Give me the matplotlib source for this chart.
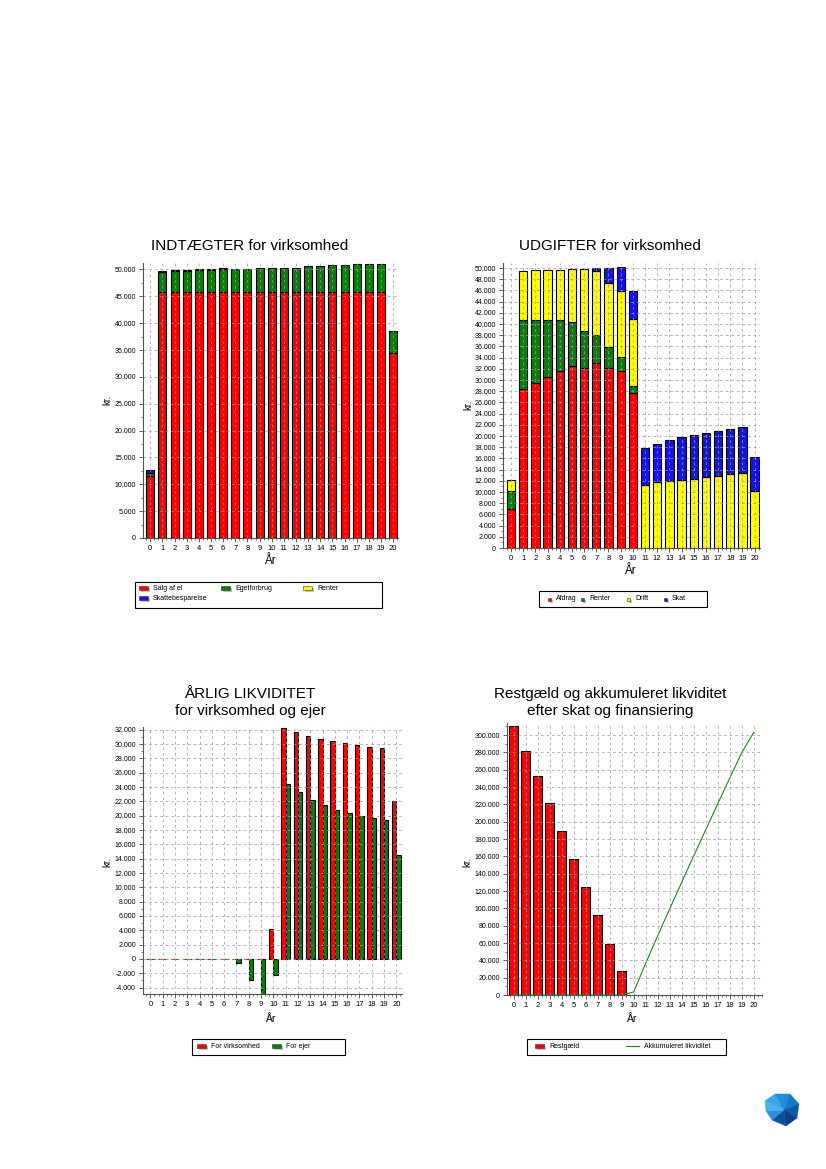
import matplotlib
matplotlib.use("Agg")
import matplotlib.pyplot as plt
from matplotlib.patches import Rectangle, Polygon
from matplotlib.lines import Line2D
from matplotlib.ticker import FuncFormatter, MultipleLocator, AutoMinorLocator

plt.rcParams['font.family'] = ['Liberation Sans', 'DejaVu Sans']

W, H = 826, 1169

################### Data
years = list(range(21))
year_labels = [str(y) for y in years]

# INDTÆGTER for virksomhed
salg_af_el = [11500] + [45800] * 19 + [34500]
egetforbrug = [600, 3650, 3950, 3850, 4100, 4100, 4300, 4200, 4200, 4400, 4400,
               4550, 4550, 4750, 4750, 4950, 4950, 5150, 5150, 5300, 3950]
ind_renter = [0] * 21
skattebesparelse = [500, 300, 100, 200, 100, 100, 100] + [0] * 14

# UDGIFTER for virksomhed
afdrag = [6900, 28400, 29500, 30500, 31600, 32500, 32200, 33100, 32100, 31700, 27700] + [0] * 10
udg_renter = [3250, 12400, 11300, 10300, 9150, 7800, 6550, 5000, 3800, 2500, 1150] + [0] * 10
drift = [2080, 8720, 8900, 8900, 8950, 9550, 11160, 11450, 11450, 11750, 12050,
         11340, 11700, 11930, 12170, 12350, 12650, 12830, 13130, 13480, 10140]
skat = [0, 0, 0, 0, 0, 0, 0, 540, 2700, 4240, 4950,
        6440, 6800, 7280, 7640, 7760, 7820, 8000, 8050, 8060, 6090]

# ÅRLIG LIKVIDITET
for_virksomhed = [0] * 10 + [4170, 32300, 31650, 31100, 30700, 30400, 30150, 29850, 29600, 29450, 22100]
for_ejer = [0] * 7 + [-600, -2950, -4850, -2200, 24450, 23250, 22250, 21450, 20850,
                      20400, 20000, 19750, 19450, 14500]

# Restgæld og akkumuleret likviditet
rest_years = list(range(10))
restgaeld = [310000, 281500, 252700, 221500, 189100, 156800, 125200, 92000, 58500, 27300]
akk_likviditet = [0] * 10 + [3500, 36500, 68200, 99300, 130000, 160400, 190500,
                             220400, 250000, 279400, 303000]

RED = '#ff0000'
GREEN = '#0b7d0b'
YELLOW = '#ffff00'
BLUE = '#1414e6'


def fx(x):
    return x / W


def fy(y):
    return 1 - y / H


def dk(v, pos=None):
    return '{:,}'.format(int(round(v))).replace(',', '.')


def make_ax(left, top, right, bottom, xlim, ylim, ystep):
    ax = fig.add_axes([fx(left), fy(bottom), (right - left) / W, (bottom - top) / H])
    ax.set_xlim(*xlim)
    ax.set_ylim(*ylim)
    ax.set_xticks(years)
    ax.set_xticklabels(year_labels, fontsize=5.5)
    ax.yaxis.set_major_locator(MultipleLocator(ystep))
    ax.yaxis.set_major_formatter(FuncFormatter(dk))
    ax.xaxis.set_minor_locator(AutoMinorLocator(3))
    ax.yaxis.set_minor_locator(AutoMinorLocator(2))
    ax.tick_params(axis='y', labelsize=5)
    ax.tick_params(which='major', length=3, width=0.6, color='#444444', pad=2)
    ax.tick_params(which='minor', length=1.5, width=0.5, color='#444444')
    for s in ['top', 'right']:
        ax.spines[s].set_visible(False)
    for s in ['left', 'bottom']:
        ax.spines[s].set_color('#555555')
        ax.spines[s].set_linewidth(0.8)
    ax.grid(True, color='#9a9a9a', linestyle=(0, (4, 4)), linewidth=0.5)
    ax.set_axisbelow(False)
    return ax


def legend_box(x0, y0, x1, y1, entries, size=5):
    # entries: (kind, color, x, y, text)
    fig.add_artist(Rectangle((fx(x0), fy(y1)), (x1 - x0) / W, (y1 - y0) / H,
                             transform=fig.transFigure, fill=False, edgecolor='black', linewidth=0.8))
    for kind, color, x, y, text in entries:
        if kind == 'line':
            fig.add_artist(Line2D([fx(x), fx(x + 13)], [fy(y), fy(y)], color=color,
                                  linewidth=0.8, transform=fig.transFigure))
            tx = x + 18
        else:
            w, h = (3, 3) if kind == 'small' else (9, 4)
            fig.add_artist(Rectangle((fx(x + 2), fy(y + h / 2 + 2)), w / W, h / H,
                                     transform=fig.transFigure, facecolor='#c0c0c0', edgecolor='none'))
            fig.add_artist(Rectangle((fx(x), fy(y + h / 2)), w / W, h / H,
                                     transform=fig.transFigure, facecolor=color,
                                     edgecolor='#333333', linewidth=0.4))
            tx = x + w + 5
        fig.text(fx(tx), fy(y), text, fontsize=size, va='center', ha='left')


fig = plt.figure(figsize=(W / 100, H / 100), dpi=100)

#################### INDTÆGTER
ax1 = make_ax(143, 263, 398, 538, (-0.6, 20.4), (0, 51200), 5000)
bw = 0.65
b = [0] * 21
for vals, col in [(salg_af_el, RED), (egetforbrug, GREEN), (ind_renter, YELLOW), (skattebesparelse, BLUE)]:
    ec = ['black' if v > 0 else 'none' for v in vals]
    ax1.bar(years, vals, bw, bottom=b, color=col, edgecolor=ec, linewidth=0.8)
    b = [p + q for p, q in zip(b, vals)]
fig.text(fx(250), fy(246), 'INDTÆGTER for virksomhed', fontsize=11, ha='center', va='center')
fig.text(fx(107), fy(400), 'kr.', fontsize=7, rotation=90, ha='center', va='center')
fig.text(fx(270), fy(561), 'År', fontsize=8.5, ha='center', va='center')
legend_box(135, 582, 382, 608, [
    ('patch', RED, 139, 588, 'Salg af el'),
    ('patch', GREEN, 221, 588, 'Egetforbrug'),
    ('patch', YELLOW, 303, 588, 'Renter'),
    ('patch', BLUE, 139, 598, 'Skattebesparelse'),
])

#################### UDGIFTER
ax2 = make_ax(503, 263, 760, 548, (-0.66, 20.44), (0, 50900), 2000)
bw = 0.68
b = [0] * 21
for vals, col in [(afdrag, RED), (udg_renter, GREEN), (drift, YELLOW), (skat, BLUE)]:
    ec = ['black' if v > 0 else 'none' for v in vals]
    ax2.bar(years, vals, bw, bottom=b, color=col, edgecolor=ec, linewidth=0.8)
    b = [p + q for p, q in zip(b, vals)]
fig.text(fx(610), fy(246), 'UDGIFTER for virksomhed', fontsize=11, ha='center', va='center')
fig.text(fx(468), fy(405), 'kr.', fontsize=7, rotation=90, ha='center', va='center')
fig.text(fx(630), fy(571), 'År', fontsize=8.5, ha='center', va='center')
legend_box(539, 591, 707, 607, [
    ('small', RED, 548, 599, 'Afdrag'),
    ('small', GREEN, 581, 599, 'Renter'),
    ('small', YELLOW, 627, 599, 'Drift'),
    ('small', BLUE, 664, 599, 'Skat'),
])

#################### ÅRLIG LIKVIDITET
ax3 = make_ax(143, 727, 402, 994, (-0.6, 20.46), (-4900, 32400), 2000)
bw = 0.36
xr = [y - 0.18 for y in years]
xg = [y + 0.18 for y in years]
ax3.bar(xr, for_virksomhed, bw, color=RED,
        edgecolor=['black' if v != 0 else RED for v in for_virksomhed], linewidth=0.8)
ax3.bar(xg, for_ejer, bw, color=GREEN,
        edgecolor=['black' if v != 0 else GREEN for v in for_ejer], linewidth=0.8)
fig.text(fx(250), fy(702.5), 'ÅRLIG LIKVIDITET\nfor virksomhed og ejer', fontsize=11,
         ha='center', va='center', linespacing=1.3)
fig.text(fx(107), fy(862), 'kr.', fontsize=7, rotation=90, ha='center', va='center')
fig.text(fx(271), fy(1019), 'År', fontsize=7.5, ha='center', va='center')
legend_box(192, 1039, 345, 1055, [
    ('patch', RED, 197, 1046, 'For virksomhed'),
    ('patch', GREEN, 272, 1046, 'For ejer'),
])

#################### Restgæld
ax4 = make_ax(507, 723, 762, 995, (-0.56, 20.7), (0, 314000), 20000)
ax4.bar(rest_years, restgaeld, 0.72, color=RED, edgecolor='black', linewidth=0.8)
ax4.plot(years, akk_likviditet, color='#1a8a1a', linewidth=0.8)
fig.text(fx(610), fy(702.5), 'Restgæld og akkumuleret likviditet\nefter skat og finansiering',
         fontsize=11, ha='center', va='center', linespacing=1.3)
fig.text(fx(467), fy(862), 'kr.', fontsize=7, rotation=90, ha='center', va='center')
fig.text(fx(632), fy(1019), 'År', fontsize=7.5, ha='center', va='center')
legend_box(527, 1039, 726, 1055, [
    ('patch', RED, 535, 1046, 'Restgæld'),
    ('line', '#1a8a1a', 626, 1046, 'Akkumuleret likviditet'),
])

#################### logo
c = (784, 1110)
pts = [(765, 1101), (775, 1094), (790, 1094), (799, 1104), (797, 1118), (786, 1126), (772, 1120), (766, 1111)]
shades = ['#3aa7e8', '#1f8fdc', '#1679c8', '#0d5aa8', '#0a3f88', '#0e4f9c', '#2a8fd8', '#49b2ee']
for i in range(len(pts)):
    p1 = pts[i]
    p2 = pts[(i + 1) % len(pts)]
    tri = [(fx(c[0]), fy(c[1])), (fx(p1[0]), fy(p1[1])), (fx(p2[0]), fy(p2[1]))]
    fig.add_artist(Polygon(tri, closed=True, transform=fig.transFigure,
                           facecolor=shades[i], edgecolor=shades[i], linewidth=0.3))

fig.savefig('out.png', dpi=100)
